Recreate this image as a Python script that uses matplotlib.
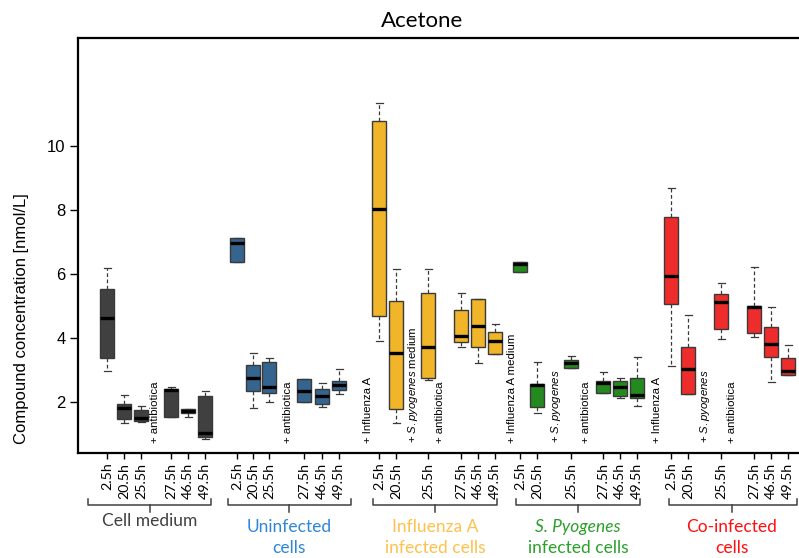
import matplotlib
matplotlib.use('Agg')
import matplotlib.pyplot as plt

plt.rcParams['font.family'] = ['Liberation Sans', 'DejaVu Sans']
plt.rcParams['mathtext.fontset'] = 'custom'
plt.rcParams['mathtext.rm'] = 'Liberation Sans'
plt.rcParams['mathtext.it'] = 'Liberation Sans:italic'

times = ['2.5h', '20.5h', '25.5h', '27.5h', '46.5h', '49.5h']

# whisker low, Q1, median, Q3, whisker high for each time point
cell_medium = [[2.97, 3.38, 4.61, 5.51, 6.17],
               [1.33, 1.47, 1.81, 1.93, 2.21],
               [1.36, 1.40, 1.48, 1.73, 1.87],
               [1.53, 1.53, 2.37, 2.40, 2.45],
               [1.53, 1.64, 1.71, 1.78, 1.78],
               [0.83, 0.89, 1.01, 2.19, 2.34]]
uninfected = [[6.38, 6.38, 6.95, 7.11, 7.11],
              [1.81, 2.34, 2.75, 3.15, 3.53],
              [2.00, 2.26, 2.47, 3.24, 3.36],
              [1.99, 2.00, 2.34, 2.71, 2.71],
              [1.84, 1.93, 2.19, 2.40, 2.59],
              [2.23, 2.37, 2.52, 2.65, 3.02]]
influenza = [[3.91, 4.69, 8.01, 10.78, 11.33],
             [1.34, 1.76, 3.53, 5.16, 6.14],
             [2.68, 2.73, 3.72, 5.39, 6.14],
             [3.72, 3.88, 4.05, 4.87, 5.39],
             [3.20, 3.72, 4.37, 5.21, 5.21],
             [3.48, 3.48, 3.90, 4.17, 4.43]]
spyogenes = [[6.04, 6.04, 6.29, 6.38, 6.38],
             [1.64, 1.84, 2.52, 2.55, 3.25],
             [3.06, 3.06, 3.20, 3.29, 3.43],
             [2.26, 2.26, 2.58, 2.66, 2.94],
             [2.12, 2.18, 2.46, 2.65, 2.74],
             [1.88, 2.11, 2.20, 2.75, 3.39]]
coinfected = [[3.13, 5.04, 5.93, 7.76, 8.67],
              [2.24, 2.24, 3.01, 3.71, 4.71],
              [3.95, 4.26, 5.13, 5.36, 5.70],
              [4.01, 4.16, 4.97, 5.00, 6.22],
              [2.62, 3.41, 3.81, 4.33, 4.97],
              [2.84, 2.84, 2.96, 3.36, 3.77]]

groups = [cell_medium, uninfected, influenza, spyogenes, coinfected]
box_colors = ['#404040', '#35648f', '#f0b528', '#24891f', '#ee2c2c']
label_colors = ['#404040', '#2f86d6', '#ffc04c', '#2aa02a', '#ff1010']
group_labels = [['Cell medium'], ['Uninfected', 'cells'], ['Influenza A', 'infected cells'],
                ['S. Pyogenes', 'infected cells'], ['Co-infected', 'cells']]

# treatment notes written up the plot
notes = [[(155, '+ antibiotica')],
         [(288, '+ antibiotica')],
         [(368, '+ Influenza A'), (413, r'+ $\it{S.pyogenes}$ medium'), (440, '+ antibiotica')],
         [(512, '+ Influenza A medium'), (556, r'+ $\it{S.pyogenes}$'), (586, '+ antibiotica')],
         [(657, '+ Influenza A'), (705, r'+ $\it{S.pyogenes}$'), (732, '+ antibiotica')]]

# box positions along x (pixel scale of the figure)
positions = [[107, 124, 141, 171, 188, 205],
             [237, 253, 269, 304, 322, 339],
             [379, 396, 428, 461, 478, 495],
             [520, 537, 571, 603, 620, 637],
             [671, 688, 721, 754, 771, 788]]
brackets = [(88, 211, 150), (228, 351, 289), (373, 497, 435), (516, 640, 578), (669, 797, 732)]

W, H = 799, 558
fig = plt.figure(figsize=(W / 100, H / 100), dpi=100)
ax = fig.add_axes([78 / W, 105 / H, (815 - 78) / W, 415 / H])

for data, pos, col in zip(groups, positions, box_colors):
    stats = [dict(whislo=s[0], q1=s[1], med=s[2], q3=s[3], whishi=s[4]) for s in data]
    ax.bxp(stats, positions=pos, widths=14, capwidths=7, showfliers=False,
           patch_artist=True, manage_ticks=False,
           boxprops=dict(facecolor=col, edgecolor='#3a3a3a', linewidth=1.0),
           medianprops=dict(color='black', linewidth=2.4),
           whiskerprops=dict(color='#3a3a3a', linewidth=0.9, linestyle=(0, (3, 2))),
           capprops=dict(color='#3a3a3a', linewidth=0.9))

for group in notes:
    for x, txt in group:
        ax.text(x, 0.71, txt, rotation=90, ha='center', va='bottom', fontsize=8.2)

ax.set_xlim(78, 815)
ax.set_ylim(0.397, 13.37)
ax.set_yticks([2, 4, 6, 8, 10])
ax.tick_params(axis='y', labelsize=12, length=6, width=1, pad=3)
all_pos = [p for pos in positions for p in pos]
ax.set_xticks(all_pos)
ax.set_xticklabels(times * len(groups), rotation=90, fontsize=10.3, family='Lato', va='top')
ax.tick_params(axis='x', length=4, width=1, pad=3)
ax.spines['right'].set_visible(False)
for s in ['left', 'top', 'bottom']:
    ax.spines[s].set_linewidth(1.6)

# overlay in figure pixels for title, y label, brackets and group names
ov = fig.add_axes([0, 0, 1, 1])
ov.set_xlim(0, W)
ov.set_ylim(H, 0)
ov.axis('off')
ov.text(422, 21, 'Acetone', ha='center', va='center', fontsize=16, family='Lato')
ov.text(22, 319, 'Compound concentration [nmol/L]', rotation=90,
        ha='center', va='center', fontsize=12)

for (x0, x1, xm), names, col in zip(brackets, group_labels, label_colors):
    ov.plot([x0, x0, x1, x1], [499, 505, 505, 499], color='#404040', lw=1.1)
    ov.plot([xm, xm], [505, 512], color='#404040', lw=1.1)
    if len(names) == 1:
        ov.text(xm, 521, names[0], ha='center', va='center', fontsize=12.5,
                family='Lato', color=col)
    else:
        style = 'italic' if names[0].startswith('S.') else 'normal'
        ov.text(xm, 527, names[0], ha='center', va='center', fontsize=12.5,
                family='Lato', color=col, style=style)
        ov.text(xm, 548, names[1], ha='center', va='center', fontsize=12.5,
                family='Lato', color=col)

fig.savefig('out.png', dpi=100)
